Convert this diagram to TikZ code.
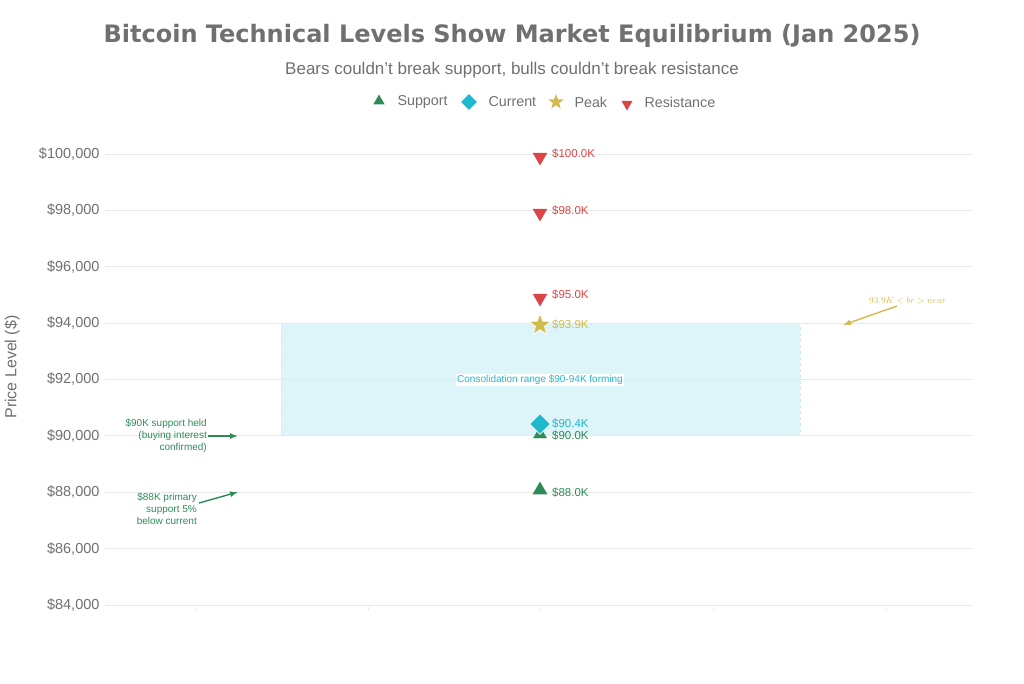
\documentclass[tikz,border=0pt]{standalone}
\usepackage{fontspec}
\setmainfont{Liberation Sans}
\newfontfamily\titlefont{DejaVu Sans}
\usetikzlibrary{shapes.geometric,arrows.meta}
\definecolor{tgray}{HTML}{707070}
\definecolor{sgreen}{HTML}{2E8B57}
\definecolor{ccyan}{HTML}{1FB8CD}
\definecolor{pgold}{HTML}{D2BA4C}
\definecolor{rred}{HTML}{DB4545}
\definecolor{grid}{HTML}{E8E8E8}
\begin{document}
\begin{tikzpicture}[x=1pt,y=-1pt,
 up/.style={regular polygon,regular polygon sides=3,fill=sgreen,inner sep=0pt,minimum size=17pt},
 down/.style={regular polygon,regular polygon sides=3,shape border rotate=180,fill=rred,inner sep=0pt,minimum size=17pt},
 dia/.style={diamond,fill=ccyan,inner sep=0pt,minimum size=#1},
 st/.style={star,star points=5,star point ratio=2.4,fill=pgold,inner sep=0pt,minimum size=#1},
 lab/.style={anchor=west,font=\fontsize{11.5}{13}\selectfont,inner sep=0pt},
 ytick/.style={anchor=east,font=\fontsize{14.5}{17}\selectfont,text=tgray},
 leg/.style={anchor=west,font=\fontsize{14.3}{17}\selectfont,text=tgray},
 ann/.style={align=right,anchor=east,font=\fontsize{10}{12}\selectfont,text=sgreen,inner sep=1pt},
 arr/.style={-{Latex[length=8pt,width=6pt]},line width=1.4pt}]
\useasboundingbox (0,0) rectangle (1024,683);
% title
\node[font=\titlefont\bfseries\fontsize{24}{28}\selectfont,text=tgray] (title) at (512,36) {Bitcoin Technical Levels Show Market Equilibrium (Jan 2025)};
\node[font=\fontsize{17}{19}\selectfont,text=tgray] (sub) at (512,70) {Bears couldn't break support, bulls couldn't break resistance};
% legend
\node[up,minimum size=13pt] (l1) at (379,101) {};
\node[leg] (l1t) at (394,102) {Support};
\node[dia=16pt] (l2) at (469,102) {};
\node[leg] (l2t) at (485,102) {Current};
\node[st=16pt] (l3) at (556,102) {};
\node[leg] (l3t) at (571,102) {Peak};
\node[down,minimum size=13pt] (l4) at (627,104) {};
\node[leg] (l4t) at (641,102) {Resistance};
% consolidation rect
\fill[ccyan!15] (281,323.1) rectangle (800,435.9);
\draw[ccyan!25,dashed,line width=1pt] (281,323.1) rectangle (800,435.9);
% grid and y labels
\foreach \v/\t in {100/{\$100,000},98/{\$98,000},96/{\$96,000},94/{\$94,000},92/{\$92,000},90/{\$90,000},88/{\$88,000},86/{\$86,000},84/{\$84,000}}{
  \pgfmathsetmacro{\yy}{154+(100-\v)/2*56.375}
  \draw[grid,line width=0.8pt] (105,\yy) -- (972,\yy);
  \node[ytick] (y\v) at (103,\yy) {\t};
}
\foreach \x in {195,368,540,713,886}{\draw[grid,line width=0.8pt] (\x,607) -- (\x,610);}
\node[rotate=90,font=\fontsize{16}{18}\selectfont,text=tgray] (yl) at (12,367) {Price Level (\$)};
% consolidation label
\node[fill=white,inner sep=1.5pt,font=\fontsize{10}{12}\selectfont,text=ccyan] (cl) at (540,380) {Consolidation range \$90-94K forming};
% markers
\node[down] (r100) at (540,157) {};
\node[lab,text=rred] at (552,154) {\$100.0K};
\node[down] (r98) at (540,213) {};
\node[lab,text=rred] at (552,210.4) {\$98.0K};
\node[down] (r95) at (540,298) {};
\node[lab,text=rred] at (552,294.9) {\$95.0K};
\node[st=23pt,draw=white,line width=0.8pt] (pk) at (540,325) {};
\node[lab,text=pgold] at (552,325) {\$93.9K};
\node[up,draw=white] (s90) at (540,434) {};
\node[lab,text=sgreen] at (552,436) {\$90.0K};
\node[dia=21pt,draw=white,line width=0.8pt] (cur) at (540,424) {};
\node[lab,text=ccyan] at (552,423.5) {\$90.4K};
\node[up] (s88) at (540,490) {};
\node[lab,text=sgreen] at (552,492.3) {\$88.0K};
% annotations
\node[ann] (a90) at (208,436) {\$90K support held\\(buying interest\\confirmed)};
\coordinate (a90e) at (238,436);
\draw[arr,sgreen] (a90.east) -- (a90e);
\node[ann] (a88) at (198,509) {\$88K primary\\support 5\%\\below current};
\coordinate (a88e) at (238,492);
\draw[arr,sgreen] (199,503) -- (a88e);
\node[font=\fontsize{9.5}{12}\selectfont,text=pgold,anchor=west,inner sep=0pt] (a94) at (869,301) {$93.9K<br>near$};
\coordinate (a94e) at (843,325);
\draw[arr,pgold] (897,306) -- (a94e);
\end{tikzpicture}
\end{document}
